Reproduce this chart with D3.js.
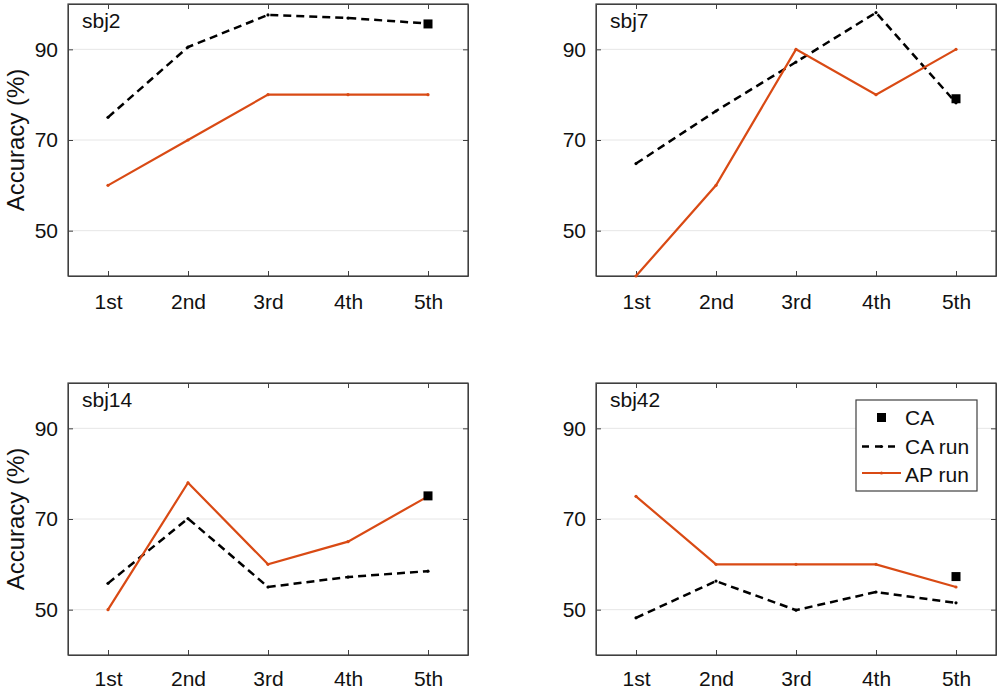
<!DOCTYPE html>
<html>
<head>
  <script src="https://d3js.org/d3.v7.min.js"></script>
  <style>
    body { margin: 0; background: #fff; }
    svg { font-family: "Liberation Sans", Arial, sans-serif; }
    .axis path, .axis line { stroke: #404040; }
    .axis text { fill: #111; font-size: 21px; font-family: "Liberation Sans", Arial, sans-serif; }
    .grid line { stroke: #e6e6e6; stroke-width: 1; }
  </style>
</head>
<body>
  <svg id="chart" width="1000" height="690"></svg>
  <script>
    var runs = ['1st', '2nd', '3rd', '4th', '5th'];
    var subjects = ['sbj2', 'sbj7', 'sbj14', 'sbj42'];
    var yTicks = [50, 70, 90];
    var legendLabels = ['CA', 'CA run', 'AP run'];

    // CA run (dashed black), one row per subject
    var caRun = [
      [75, 90.5, 97.6, 96.9, 95.7],
      [64.8, 76.4, 87.2, 98.1, 78.2],
      [55.8, 70.1, 55.0, 57.2, 58.5],
      [48.2, 56.3, 49.9, 53.9, 51.5]
    ];
    // AP run (solid orange)
    var apRun = [
      [60, 70, 80, 80, 80],
      [40, 60, 90, 80, 90],
      [50, 78, 60, 65, 75],
      [75, 60, 60, 60, 55]
    ];
    // CA marker, shown at the 5th run only
    var caPoint = [95.6, 79.1, 75.1, 57.3];

    var orange = '#d94a14';
    var width = 400;
    var height = 272;
    var panelPos = [[68, 4], [596, 4], [68, 383], [596, 383]];

    var x = d3.scaleLinear().domain([0.5, 5.5]).range([0, width]);
    var y = d3.scaleLinear().domain([40, 100]).range([height, 0]);

    var svg = d3.select('#chart');

    var line = d3.line()
      .x(function (d, i) { return x(i + 1); })
      .y(function (d) { return y(d); });

    subjects.forEach(function (name, k) {
      var g = svg.append('g')
        .attr('transform', 'translate(' + panelPos[k][0] + ',' + panelPos[k][1] + ')');

      g.append('g').attr('class', 'grid')
        .selectAll('line')
        .data(yTicks)
        .enter()
        .append('line')
        .attr('x1', 0)
        .attr('x2', width)
        .attr('y1', y)
        .attr('y2', y);

      g.append('g').attr('class', 'axis')
        .attr('transform', 'translate(0,' + height + ')')
        .call(d3.axisBottom(x).tickValues([1, 2, 3, 4, 5])
          .tickFormat(function (d) { return runs[d - 1]; })
          .tickSizeInner(-5).tickSizeOuter(0).tickPadding(k < 2 ? 18 : 16));
      g.append('g').attr('class', 'axis')
        .call(d3.axisTop(x).tickValues([1, 2, 3, 4, 5])
          .tickFormat('').tickSizeInner(-5).tickSizeOuter(0));
      g.append('g').attr('class', 'axis')
        .call(d3.axisLeft(y).tickValues(yTicks)
          .tickSizeInner(-5).tickSizeOuter(0).tickPadding(10));
      g.append('g').attr('class', 'axis')
        .attr('transform', 'translate(' + width + ',0)')
        .call(d3.axisRight(y).tickValues(yTicks)
          .tickFormat('').tickSizeInner(-5).tickSizeOuter(0));

      g.append('rect')
        .attr('width', width)
        .attr('height', height)
        .attr('fill', 'none')
        .attr('stroke', '#404040')
        .attr('stroke-width', 1.2);

      g.append('path')
        .datum(caRun[k])
        .attr('d', line)
        .attr('fill', 'none')
        .attr('stroke', '#000')
        .attr('stroke-width', 2.5)
        .attr('stroke-dasharray', '8,5');

      g.append('path')
        .datum(apRun[k])
        .attr('d', line)
        .attr('fill', 'none')
        .attr('stroke', orange)
        .attr('stroke-width', 2.2);

      g.selectAll('.dotAP')
        .data(apRun[k])
        .enter()
        .append('circle')
        .attr('class', 'dotAP')
        .attr('cx', function (d, i) { return x(i + 1); })
        .attr('cy', y)
        .attr('r', 1.6)
        .attr('fill', orange);

      g.selectAll('.dotCA')
        .data(caRun[k])
        .enter()
        .append('circle')
        .attr('class', 'dotCA')
        .attr('cx', function (d, i) { return x(i + 1); })
        .attr('cy', y)
        .attr('r', 1.6)
        .attr('fill', '#000');

      g.append('rect')
        .attr('x', x(5) - 4.5)
        .attr('y', y(caPoint[k]) - 4.5)
        .attr('width', 9)
        .attr('height', 9)
        .attr('fill', '#000');

      g.append('text')
        .attr('x', 14)
        .attr('y', 24)
        .attr('font-size', 21)
        .attr('fill', '#111')
        .text(name);

      if (k % 2 === 0) {
        g.append('text')
          .attr('transform', 'translate(-44,' + height / 2 + ') rotate(-90)')
          .attr('text-anchor', 'middle')
          .attr('font-size', 24)
          .attr('fill', '#111')
          .text('Accuracy (%)');
      }

      if (k === 3) {
        var lg = g.append('g').attr('transform', 'translate(260,17)');
        lg.append('rect')
          .attr('width', 121)
          .attr('height', 91)
          .attr('fill', '#fff')
          .attr('stroke', '#404040')
          .attr('stroke-width', 1.2);
        lg.append('rect')
          .attr('x', 21).attr('y', 13)
          .attr('width', 9).attr('height', 9)
          .attr('fill', '#000');
        lg.append('line')
          .attr('x1', 6).attr('x2', 45).attr('y1', 46.5).attr('y2', 46.5)
          .attr('stroke', '#000').attr('stroke-width', 2.5)
          .attr('stroke-dasharray', '7,6');
        lg.append('circle')
          .attr('cx', 25.5).attr('cy', 46.5).attr('r', 1.6).attr('fill', '#000');
        lg.append('line')
          .attr('x1', 6).attr('x2', 45).attr('y1', 73).attr('y2', 73)
          .attr('stroke', orange).attr('stroke-width', 2.2);
        lg.append('circle')
          .attr('cx', 25.5).attr('cy', 73).attr('r', 1.6).attr('fill', orange);
        lg.selectAll('.lt')
          .data(legendLabels)
          .enter()
          .append('text')
          .attr('class', 'lt')
          .attr('x', 49)
          .attr('y', function (d, i) { return 25 + i * 28.5; })
          .attr('font-size', 21)
          .attr('fill', '#111')
          .text(function (d) { return d; });
      }
    });
  </script>
</body>
</html>
